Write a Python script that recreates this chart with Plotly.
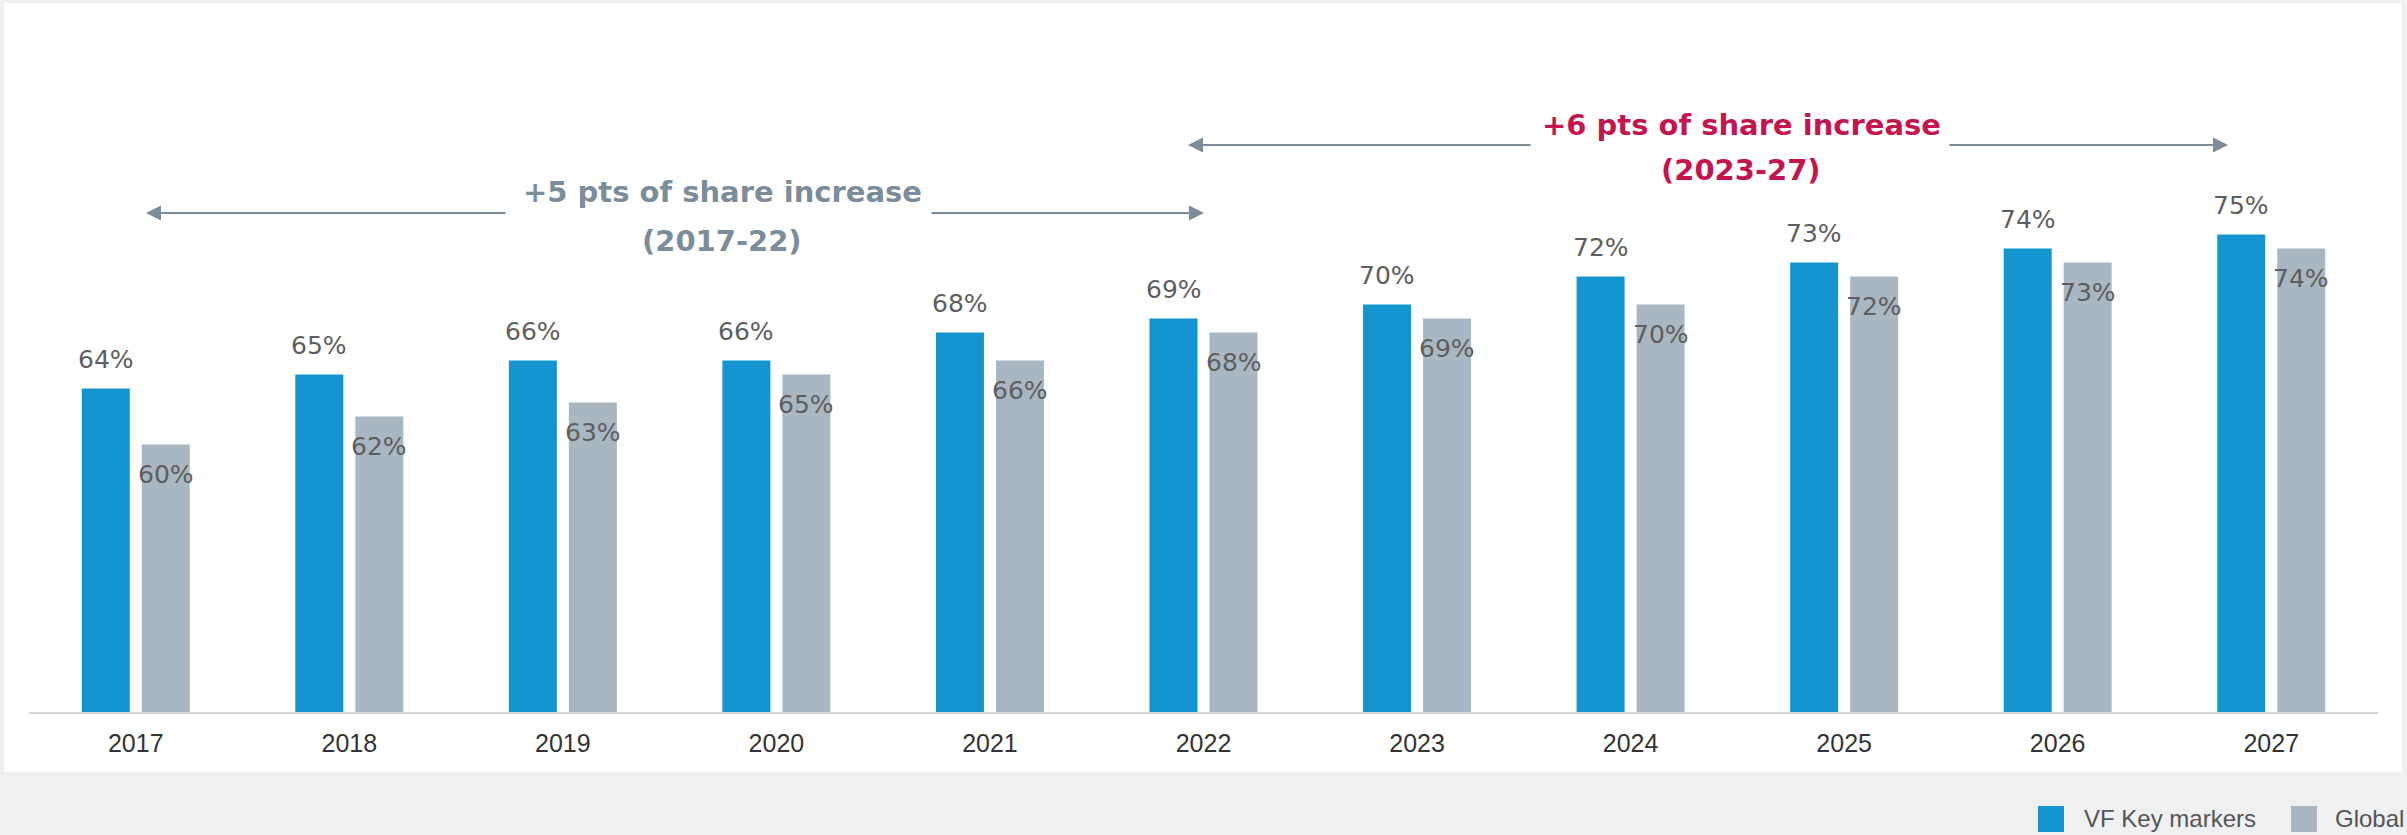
import plotly.graph_objects as go

# ---- data -------------------------------------------------------------
years = [2017, 2018, 2019, 2020, 2021, 2022, 2023, 2024, 2025, 2026, 2027]
year_labels = [str(y) for y in years]
series_names = ["VF Key markers", "Global"]
vf_key_markers = [64, 65, 66, 66, 68, 69, 70, 72, 73, 74, 75]
global_share = [60, 62, 63, 65, 66, 68, 69, 70, 72, 73, 74]
period_notes = [
    ("+5 pts of share increase", "(2017-22)"),
    ("+6 pts of share increase", "(2023-27)"),
]

# ---- styling ----------------------------------------------------------
BLUE = "#1595cf"
GREY = "#a9b7c2"
NOTE_GREY = "#7b8d9b"
NOTE_RED = "#c4154f"
LABEL_COLOR = "#5e5e5e"
FONT = "Liberation Sans, Arial, sans-serif"
WIDE_FONT = "DejaVu Sans, Verdana, sans-serif"

W, H = 2407, 835
PLOT_L, PLOT_R, PLOT_T, PLOT_B = 29, 2378, 100, 712
X_RANGE = [2016.5, 2027.5]
Y_MIN, PX_PER_PT = 40.9, 14.0
Y_RANGE = [Y_MIN, Y_MIN + (PLOT_B - PLOT_T) / PX_PER_PT]


def px_x(px):
    """Horizontal page pixel -> x data value."""
    return X_RANGE[0] + (px - PLOT_L) * (X_RANGE[1] - X_RANGE[0]) / (PLOT_R - PLOT_L)


def px_y(py):
    """Vertical page pixel -> y data value."""
    return Y_MIN + (PLOT_B - py) / PX_PER_PT


def paper_x(px):
    return (px - PLOT_L) / (PLOT_R - PLOT_L)


def paper_y(py):
    return (PLOT_B - py) / (PLOT_B - PLOT_T)


fig = go.Figure()
fig.add_trace(go.Bar(x=years, y=vf_key_markers, name=series_names[0],
                     marker=dict(color=BLUE, line=dict(width=0)), showlegend=False))
fig.add_trace(go.Bar(x=years, y=global_share, name=series_names[1],
                     marker=dict(color=GREY, line=dict(width=0)), showlegend=False))

annotations = []
# value labels: above the blue bars, tucked inside the top of the grey bars
for yr, v in zip(years, vf_key_markers):
    annotations.append(dict(x=yr, y=v, xref="x", yref="y", text=f"{v}%", showarrow=False,
                            xshift=-30, yshift=29, yanchor="middle",
                            font=dict(family=WIDE_FONT, size=25, color=LABEL_COLOR)))
for yr, v in zip(years, global_share):
    annotations.append(dict(x=yr, y=v, xref="x", yref="y", text=f"{v}%", showarrow=False,
                            xshift=30, yshift=-30, yanchor="middle",
                            font=dict(family=WIDE_FONT, size=25, color=LABEL_COLOR)))


def span_arrow(x_end, x_start, y, color):
    return dict(x=x_end, y=y, ax=x_start, ay=y, xref="x", yref="y", axref="x", ayref="y",
                text="", showarrow=True, arrowhead=2, arrowsize=1.5, arrowwidth=2,
                arrowcolor=color)


# period brackets with their captions
brackets = [
    dict(left=146, gap_l=507, gap_r=930, right=1204, y=213, cx=722, ty1=192, ty2=241,
         color=NOTE_GREY, note=period_notes[0]),
    dict(left=1188, gap_l=1532, gap_r=1948, right=2228, y=145, cx=1741, ty1=125, ty2=170,
         color=NOTE_RED, note=period_notes[1]),
]
for b in brackets:
    yv = px_y(b["y"])
    annotations.append(span_arrow(px_x(b["left"]), px_x(b["gap_l"]), yv, NOTE_GREY))
    annotations.append(span_arrow(px_x(b["right"]), px_x(b["gap_r"]), yv, NOTE_GREY))
    for line, ty in zip(b["note"], (b["ty1"], b["ty2"])):
        annotations.append(dict(x=px_x(b["cx"]), y=px_y(ty), xref="x", yref="y",
                                text=f"<b>{line}</b>", showarrow=False, yanchor="middle",
                                font=dict(family=WIDE_FONT, size=29, color=b["color"])))

# legend entries along the footer
legend_items = [(series_names[0], BLUE, 2038, 2082), (series_names[1], GREY, 2291, 2333)]
shapes = [
    # white card on the light grey page
    dict(type="rect", xref="paper", yref="paper", layer="below",
         x0=paper_x(4), x1=paper_x(2402), y0=paper_y(772), y1=paper_y(3),
         fillcolor="white", line=dict(width=0)),
]
for name, color, sq_x, tx in legend_items:
    shapes.append(dict(type="rect", xref="paper", yref="paper",
                       x0=paper_x(sq_x), x1=paper_x(sq_x + 26),
                       y0=paper_y(832), y1=paper_y(806),
                       fillcolor=color, line=dict(width=0)))
    annotations.append(dict(x=paper_x(tx), y=paper_y(818), xref="paper", yref="paper",
                            text=name, showarrow=False, xanchor="left", yanchor="middle",
                            font=dict(family=FONT, size=24, color="#555555")))

fig.update_layout(
    width=W, height=H,
    margin=dict(l=PLOT_L, r=W - PLOT_R, t=PLOT_T, b=H - PLOT_B, pad=0),
    paper_bgcolor="#eef0f2",
    plot_bgcolor="rgba(0,0,0,0)",
    barmode="group",
    bargap=0.438,
    bargroupgap=0.2,
    showlegend=False,
    font=dict(family=FONT),
    xaxis=dict(range=X_RANGE, tickmode="array", tickvals=years, ticktext=year_labels,
               showgrid=False, zeroline=False, showline=True, linecolor="#d3d7db",
               linewidth=2, ticks="", ticklabelstandoff=8,
               tickfont=dict(family=FONT, size=25, color="#333333"), fixedrange=True),
    yaxis=dict(range=Y_RANGE, visible=False, fixedrange=True),
    annotations=annotations,
    shapes=shapes,
)

fig.write_html("out.html", config={"displayModeBar": False})
